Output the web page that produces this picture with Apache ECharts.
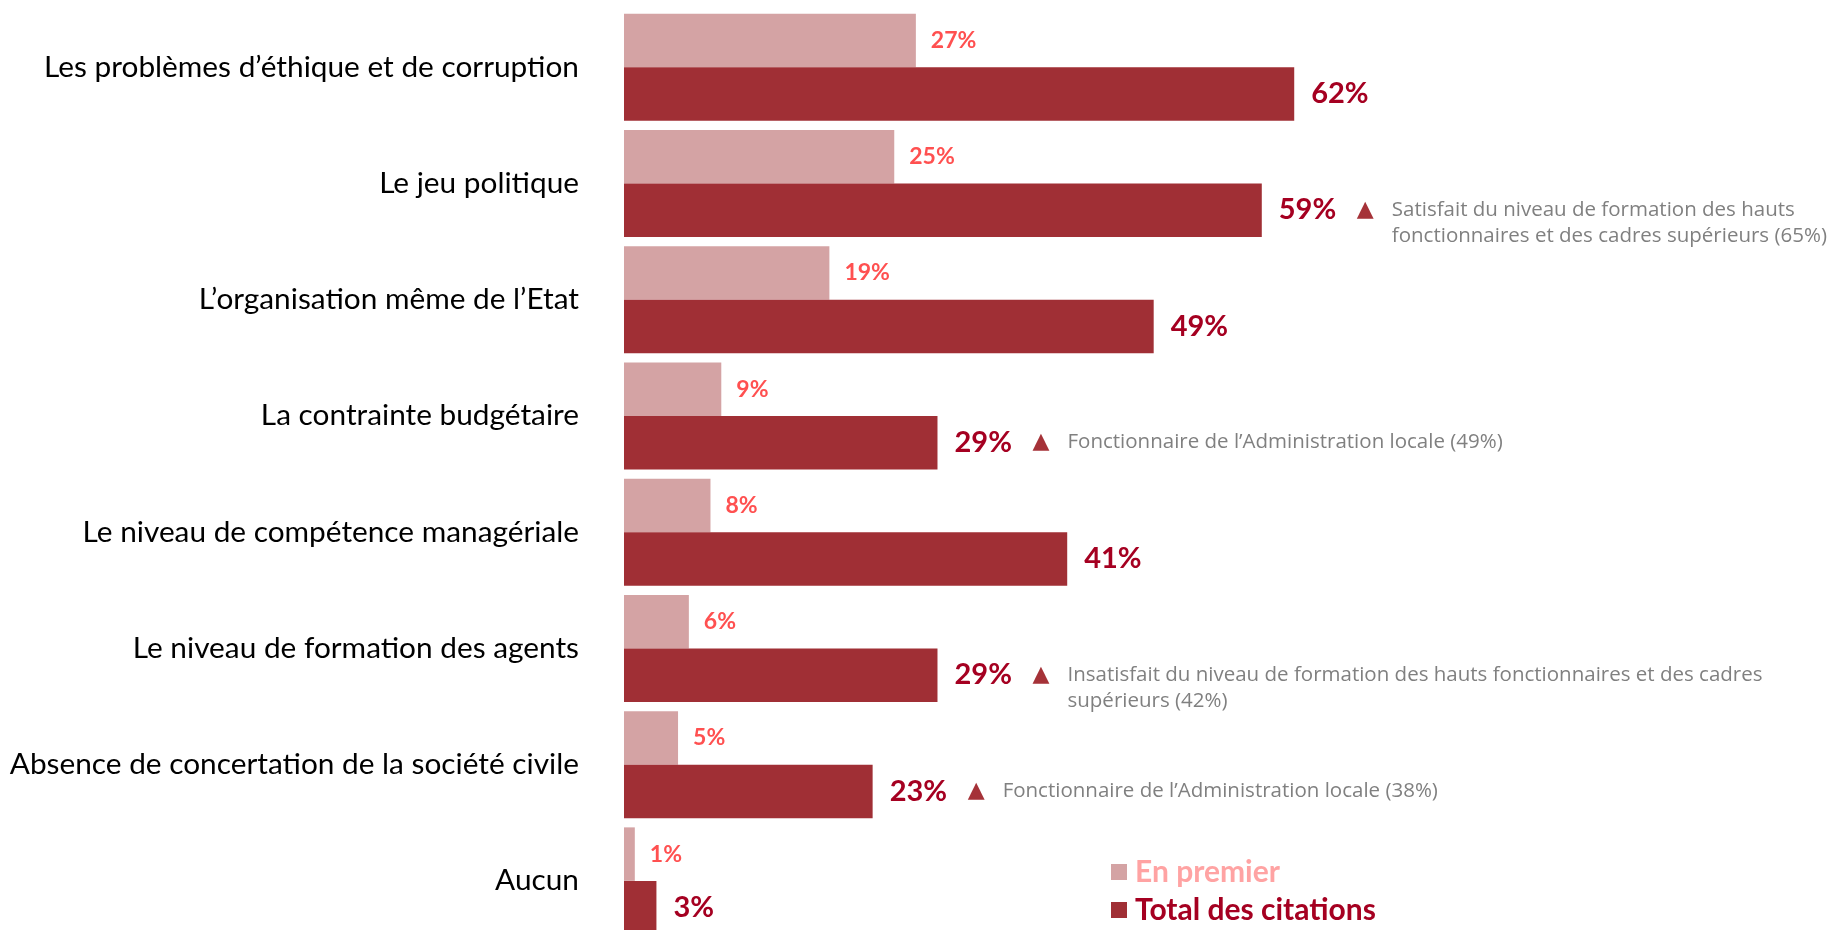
<!DOCTYPE html>
<html>
<head>
<meta charset="utf-8">
<script src="https://cdn.jsdelivr.net/npm/echarts@6/dist/echarts.min.js"></script>
<style>
  html, body { margin: 0; padding: 0; background: #fff; overflow: hidden; }
  /* the source slide crops the last bar, so the drawing runs past the window */
  #chart { width: 1830px; height: 945px; }
</style>
</head>
<body>
<div id="chart"></div>
<script>
// categories, top to bottom
const categories = [
  'Les problèmes d’éthique et de corruption',
  'Le jeu politique',
  'L’organisation même de l’Etat',
  'La contrainte budgétaire',
  'Le niveau de compétence managériale',
  'Le niveau de formation des agents',
  'Absence de concertation de la société civile',
  'Aucun',
];
const enPremier = [27, 25, 19, 9, 8, 6, 5, 1];
const totalCitations = [62, 59, 49, 29, 41, 29, 23, 3];
// sub-group notes shown next to the total, '\n' = line break
const notes = [
  '',
  'Satisfait du niveau de formation des hauts\nfonctionnaires et des cadres supérieurs (65%)',
  '',
  'Fonctionnaire de l’Administration locale (49%)',
  '',
  'Insatisfait du niveau de formation des hauts fonctionnaires et des cadres\nsupérieurs (42%)',
  'Fonctionnaire de l’Administration locale (38%)',
  '',
];

const LIGHT = '#D4A3A4';
const DARK = '#A02F35';
const NOTE_LINE = 26;

function totalLabel(p) {
  const note = notes[p.dataIndex];
  if (!note) return `{v|${p.value}%}`;
  const lines = note.split('\n');
  let s = `{v|${p.value}%}{tri|▲}{note|${lines[0]}}`;
  for (const l of lines.slice(1)) s += `\n{pad|}{note|${l}}`;
  return s;
}

const chart = echarts.init(document.getElementById('chart'));
chart.setOption({
  backgroundColor: '#fff',
  animation: false,
  legend: {
    orient: 'vertical',
    left: 1111,
    top: 857,
    padding: 0,
    itemWidth: 16,
    itemHeight: 16,
    itemGap: 8,
    icon: 'rect',
    data: [
      { name: 'En premier', textStyle: { color: '#FFA3A3' } },
      { name: 'Total des citations', textStyle: { color: '#A50021' } },
    ],
    textStyle: { fontFamily: 'Lato', fontSize: 30, fontWeight: 'bold', padding: [0, 0, 0, 3] },
  },
  grid: { left: 624, right: 125, top: 9, height: 930, containLabel: false },
  xAxis: {
    type: 'value',
    min: 0,
    max: 100,
    show: false,
  },
  yAxis: {
    type: 'category',
    data: categories,
    inverse: true,
    axisLine: { show: false },
    axisTick: { show: false },
    axisLabel: { fontFamily: 'Lato', fontSize: 29.8, color: '#000', margin: 45 },
  },
  series: [
    {
      name: 'En premier',
      type: 'bar',
      data: enPremier,
      barWidth: 53.5,
      barGap: '0%',
      itemStyle: { color: LIGHT },
      label: {
        show: true, position: 'right', distance: 15,
        fontFamily: 'Lato', fontSize: 23, fontWeight: 'bold', color: '#FF5050',
        formatter: '{c}%',
      },
    },
    {
      name: 'Total des citations',
      type: 'bar',
      data: totalCitations.map((v, i) => ({
        value: v,
        label: notes[i].includes('\n') ? { offset: [0, NOTE_LINE / 2] } : {},
      })),
      barWidth: 53.5,
      barGap: '0%',
      itemStyle: { color: DARK },
      label: {
        show: true, position: 'right', distance: 17,
        formatter: totalLabel,
        rich: {
          v: { fontFamily: 'Lato', fontSize: 29, fontWeight: 'bold', color: '#A50021', width: 78, lineHeight: NOTE_LINE },
          tri: { fontFamily: 'DejaVu Sans', fontSize: 22, color: '#A53238', width: 35, lineHeight: NOTE_LINE },
          note: { fontFamily: 'Open Sans', fontSize: 20.5, color: '#808080', lineHeight: NOTE_LINE },
          pad: { width: 113, lineHeight: NOTE_LINE },
        },
      },
    },
  ],
});
</script>
</body>
</html>
